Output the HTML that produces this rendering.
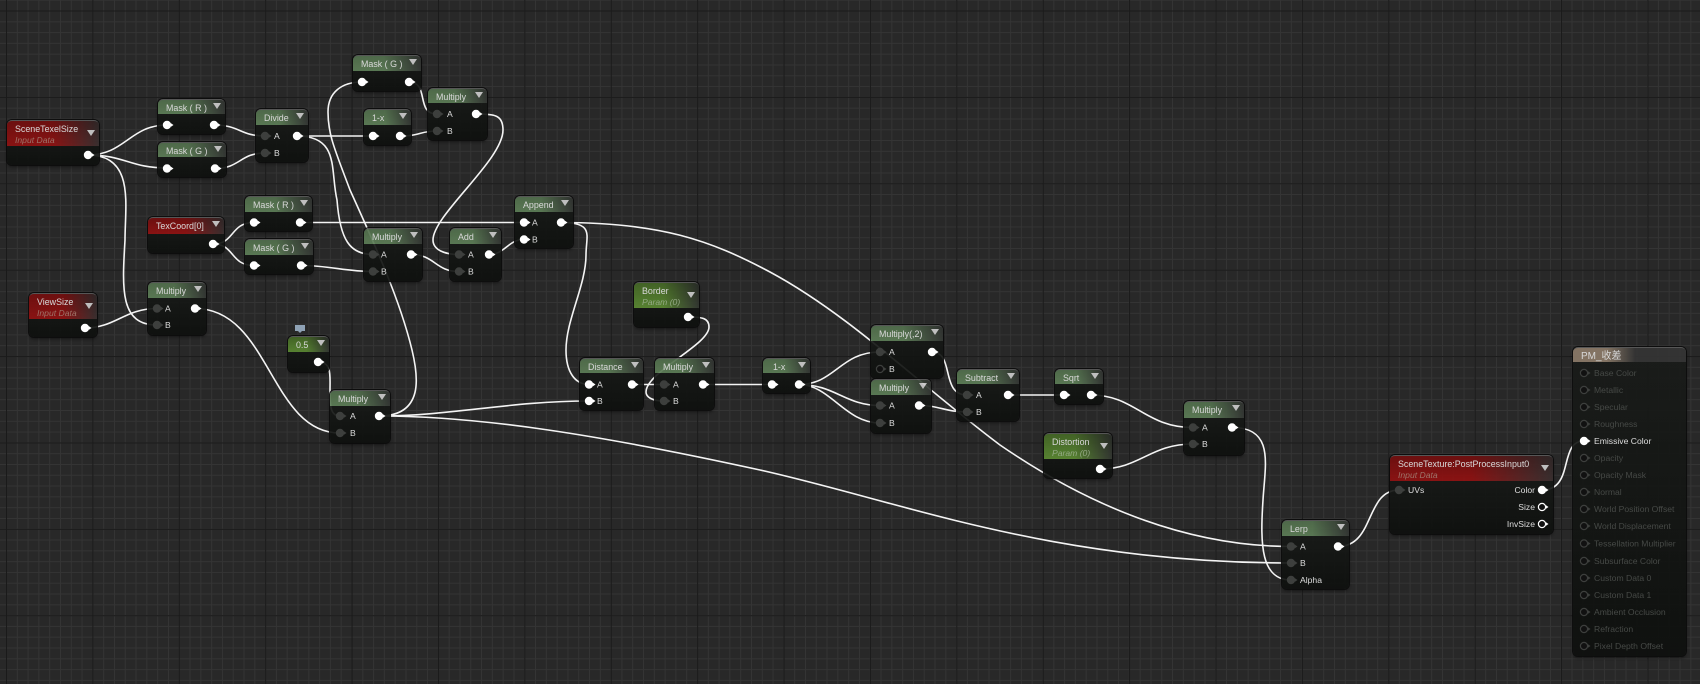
<!DOCTYPE html>
<html><head><meta charset="utf-8"><style>
html,body{margin:0;padding:0;width:1700px;height:684px;overflow:hidden}
#g{position:absolute;left:0;top:0;width:1700px;height:684px;background-color:#282828;
background-image:linear-gradient(90deg,#1a1a1a 1px,transparent 1px),linear-gradient(#1a1a1a 1px,transparent 1px),linear-gradient(90deg,#343434 1px,transparent 1px),linear-gradient(#343434 1px,transparent 1px);
background-size:86.4px 86.4px,86.4px 86.4px,10.8px 10.8px,10.8px 10.8px;background-position:6px 0,0 10.5px,6px 0,0 10.5px}
svg{position:absolute;left:0;top:0}
.n{position:absolute;box-sizing:border-box;border-radius:5px;background:linear-gradient(#191b19,#0e100e);opacity:.92;box-shadow:0 0 0 1px #0b0b0b,0 2px 3px rgba(0,0,0,.5);font:8.9px "Liberation Sans","Noto Sans CJK SC",sans-serif;color:#e6e6e6}
.h{position:relative;border-radius:5px 5px 0 0;border-top:1px solid #5a5a5a;box-sizing:border-box;white-space:nowrap}
.h b{position:absolute;left:8px;top:3px;font-weight:normal}
.h em{position:absolute;left:8px;top:14px;font-size:8.6px;font-style:italic}
.h i{position:absolute;right:4px;top:3px;width:0;height:0;border-left:4px solid transparent;border-right:4px solid transparent;border-top:6px solid #ccc}
.two b{top:3px}.two i{top:9px}
.g .h{background:linear-gradient(rgba(0,0,0,.12),transparent),linear-gradient(90deg,#5d7e57,#5d7e57 45%,#353835)}
.p .h{background:linear-gradient(rgba(0,0,0,.25),transparent),linear-gradient(90deg,#5b8a32,#5b8a32 45%,#343832)}
.r .h{background:linear-gradient(rgba(0,0,0,.22),transparent),linear-gradient(90deg,#921212,#921212 50%,#3a3030)}
.r em{color:#a8796e}.p em{color:#9db58c}
.m .h{background:linear-gradient(90deg,#8b7a68,#8b7a68 30%,#353535 55%,#353535)}
.m b{font-size:10px;top:-1px}
text{font:8.6px "Liberation Sans",sans-serif;fill:#ddd}
.dim{fill:#464946}
</style></head><body>
<div id="g"></div>
<svg width="1700" height="684" fill="none" stroke="#f4f4f4" stroke-width="1.6">
<path d="M88,155C125,155 130,125 167,125"/>
<path d="M88,155C125,155 130,168 167,168"/>
<path d="M88,155C135,155 125,205 125,240C122,290 120,325 157,325"/>
<path d="M85,328C115,328 125,308.5 157,308.5"/>
<path d="M214,125C240,125 240,136 265,136"/>
<path d="M215,168.5C240,168.5 240,153 265,153"/>
<path d="M297,136H373"/>
<path d="M297,136C340,136 330,170 337,200C340,240 350,254.5 373,254.5"/>
<path d="M379,416C425,416 418,375 412,350C400,300 375,245 350,190C335,150 328,135 328,112C328,92 342,82 362,82"/>
<path d="M409,82C430,82 415,114 437,114"/>
<path d="M400,136C420,136 420,131 437,131"/>
<path d="M476,114C495,114 503,115 503,130C503,160 433,215 433,240C433,250 445,254.5 459,254.5"/>
<path d="M300,222.5H524"/>
<path d="M301,265.5C330,265.5 345,271.5 373,271.5"/>
<path d="M213,244C235,244 230,222.5 254,222.5"/>
<path d="M213,244C235,244 230,265.5 254,265.5"/>
<path d="M411,254.5C435,254.5 435,271.5 459,271.5"/>
<path d="M489,254.5C505,254.5 508,239.5 524,239.5"/>
<path d="M561,222.5C595,222.5 586,235 586,255C586,285 566,320 566,350C566,372 575,384.5 589,384.5"/>
<path d="M561,222.5C660,222.5 710,240 770,272C850,315 920,385 1000,445C1080,500 1180,546.5 1291,546.5"/>
<path d="M195,308.5C270,308.5 270,433 340,433"/>
<path d="M318,362C332,362 330,375 330,390C330,405 330,416 340,416"/>
<path d="M379,416C450,416 510,401 589,401"/>
<path d="M379,416C480,416 600,435 760,470C900,501 1050,563 1291,563"/>
<path d="M688,317C702,317 709,318 709,327C709,345 646,372 646,392C646,397 652,401 664,401"/>
<path d="M632,384.5H664"/>
<path d="M703,384.5H772"/>
<path d="M799,384.5C835,384.5 840,352 880,352"/>
<path d="M799,384.5C835,384.5 845,405.5 880,405.5"/>
<path d="M799,384.5C830,384.5 845,423 880,423"/>
<path d="M932,352C955,352 940,395 967,395"/>
<path d="M919,405.5C940,405.5 945,412 967,412"/>
<path d="M1008,395H1064"/>
<path d="M1091,395C1135,395 1145,427.5 1193,427.5"/>
<path d="M1100,469C1140,469 1150,444 1193,444"/>
<path d="M1232,427.5C1275,427.5 1265,465 1263,500C1260,545 1261,580 1291,580"/>
<path d="M1338,546.5C1375,546.5 1365,490 1399,490"/>
<path d="M1542,490C1575,490 1558,441 1584,441"/>
</svg>

<div class="n r" style="left:7px;top:120px;width:92px;height:45px"><div class="h two" style="height:26px"><b>SceneTexelSize</b><em>Input Data</em><i></i></div></div>
<div class="n g" style="left:158px;top:99px;width:67px;height:35px"><div class="h" style="height:15px"><b>Mask ( R )</b><i></i></div></div>
<div class="n g" style="left:158px;top:142px;width:68px;height:35px"><div class="h" style="height:15px"><b>Mask ( G )</b><i></i></div></div>
<div class="n g" style="left:256px;top:109px;width:52px;height:53px"><div class="h" style="height:16px"><b>Divide</b><i></i></div></div>
<div class="n g" style="left:353px;top:55px;width:68px;height:36px"><div class="h" style="height:16px"><b>Mask ( G )</b><i></i></div></div>
<div class="n g" style="left:364px;top:109px;width:47px;height:36px"><div class="h" style="height:16px"><b>1-x</b><i></i></div></div>
<div class="n g" style="left:428px;top:88px;width:59px;height:52px"><div class="h" style="height:15px"><b>Multiply</b><i></i></div></div>
<div class="n r" style="left:148px;top:217px;width:76px;height:36px"><div class="h" style="height:17px"><b>TexCoord[0]</b><i></i></div></div>
<div class="n g" style="left:245px;top:196px;width:67px;height:35px"><div class="h" style="height:16px"><b>Mask ( R )</b><i></i></div></div>
<div class="n g" style="left:245px;top:239px;width:68px;height:35px"><div class="h" style="height:16px"><b>Mask ( G )</b><i></i></div></div>
<div class="n g" style="left:364px;top:228px;width:58px;height:53px"><div class="h" style="height:16px"><b>Multiply</b><i></i></div></div>
<div class="n g" style="left:450px;top:228px;width:51px;height:53px"><div class="h" style="height:16px"><b>Add</b><i></i></div></div>
<div class="n g" style="left:515px;top:196px;width:58px;height:52px"><div class="h" style="height:16px"><b>Append</b><i></i></div></div>
<div class="n r" style="left:29px;top:293px;width:68px;height:44px"><div class="h two" style="height:26px"><b>ViewSize</b><em>Input Data</em><i></i></div></div>
<div class="n g" style="left:148px;top:282px;width:58px;height:53px"><div class="h" style="height:16px"><b>Multiply</b><i></i></div></div>
<div class="n p" style="left:288px;top:336px;width:41px;height:36px"><div class="h" style="height:16px"><b>0.5</b><i></i></div></div>
<div class="n g" style="left:330px;top:390px;width:60px;height:53px"><div class="h" style="height:16px"><b>Multiply</b><i></i></div></div>
<div class="n p" style="left:634px;top:282px;width:65px;height:45px"><div class="h two" style="height:26px"><b>Border</b><em>Param (0)</em><i></i></div></div>
<div class="n g" style="left:580px;top:358px;width:63px;height:52px"><div class="h" style="height:15px"><b>Distance</b><i></i></div></div>
<div class="n g" style="left:655px;top:358px;width:59px;height:52px"><div class="h" style="height:15px"><b>Multiply</b><i></i></div></div>
<div class="n g" style="left:763px;top:358px;width:47px;height:35px"><div class="h" style="height:15px"><b style="left:10px">1-x</b><i></i></div></div>
<div class="n g" style="left:871px;top:325px;width:72px;height:53px"><div class="h" style="height:16px"><b>Multiply(,2)</b><i></i></div></div>
<div class="n g" style="left:871px;top:379px;width:60px;height:54px"><div class="h" style="height:16px"><b>Multiply</b><i></i></div></div>
<div class="n g" style="left:957px;top:369px;width:62px;height:52px"><div class="h" style="height:15px"><b>Subtract</b><i></i></div></div>
<div class="n g" style="left:1055px;top:369px;width:48px;height:35px"><div class="h" style="height:15px"><b>Sqrt</b><i></i></div></div>
<div class="n g" style="left:1184px;top:401px;width:60px;height:54px"><div class="h" style="height:17px"><b>Multiply</b><i></i></div></div>
<div class="n p" style="left:1044px;top:433px;width:68px;height:45px"><div class="h two" style="height:26px"><b>Distortion</b><em>Param (0)</em><i></i></div></div>
<div class="n g" style="left:1282px;top:520px;width:67px;height:69px"><div class="h" style="height:16px"><b>Lerp</b><i></i></div></div>
<div class="n r" style="left:1390px;top:455px;width:163px;height:79px"><div class="h two" style="height:26px"><b>SceneTexture:PostProcessInput0</b><em>Input Data</em><i></i></div></div>
<div class="n m" style="left:1573px;top:347px;width:113px;height:309px"><div class="h" style="height:15px"><b>PM_收差</b></div></div>

<svg width="1700" height="684">
<defs>
<g id="w"><circle r="4.2" fill="#fff"/><path d="M4,-1.8L6.5,0L4,1.8z" fill="#fff"/></g>
<g id="d"><circle r="4.2" fill="#3d3f3d"/><path d="M4,-1.8L6.5,0L4,1.8z" fill="#3d3f3d"/></g>
<g id="o"><circle r="3.6" fill="#111" stroke="#fff" stroke-width="1.2"/><path d="M4,-1.8L6.5,0L4,1.8z" fill="#fff"/></g>
<g id="k"><circle r="3.6" fill="#111" stroke="#3d3f3d" stroke-width="1.2"/><path d="M4,-1.8L6.5,0L4,1.8z" fill="#3d3f3d"/></g>
</defs>
<path d="M295,325h10v6h-3l-2,2l-2,-2h-3z" fill="#8fa2b5"/>
<use href="#w" x="88" y="155"/>
<use href="#w" x="167" y="125"/><use href="#w" x="214" y="125"/>
<use href="#w" x="167" y="168.5"/><use href="#w" x="215" y="168.5"/>
<use href="#d" x="265" y="136"/><use href="#d" x="265" y="153"/><use href="#w" x="297" y="136"/>
<use href="#w" x="362" y="82"/><use href="#w" x="409" y="82"/>
<use href="#w" x="373" y="136"/><use href="#w" x="400" y="136"/>
<use href="#d" x="437" y="114"/><use href="#d" x="437" y="131"/><use href="#w" x="476" y="114"/>
<use href="#w" x="213" y="244"/>
<use href="#w" x="254" y="222.5"/><use href="#w" x="300" y="222.5"/>
<use href="#w" x="254" y="265.5"/><use href="#w" x="301" y="265.5"/>
<use href="#d" x="373" y="254.5"/><use href="#d" x="373" y="271.5"/><use href="#w" x="411" y="254.5"/>
<use href="#d" x="459" y="254.5"/><use href="#d" x="459" y="271.5"/><use href="#w" x="489" y="254.5"/>
<use href="#w" x="524" y="222.5"/><use href="#w" x="524" y="239.5"/><use href="#w" x="561" y="222.5"/>
<use href="#w" x="85" y="328"/>
<use href="#d" x="157" y="308.5"/><use href="#d" x="157" y="325"/><use href="#w" x="195" y="308.5"/>
<use href="#w" x="318" y="362"/>
<use href="#d" x="340" y="416"/><use href="#d" x="340" y="433"/><use href="#w" x="379" y="416"/>
<use href="#w" x="688" y="317"/>
<use href="#w" x="589" y="384.5"/><use href="#w" x="589" y="401"/><use href="#w" x="632" y="384.5"/>
<use href="#d" x="664" y="384.5"/><use href="#d" x="664" y="401"/><use href="#w" x="703" y="384.5"/>
<use href="#w" x="772" y="384.5"/><use href="#w" x="799" y="384.5"/>
<use href="#d" x="880" y="352"/><use href="#k" x="880" y="369"/><use href="#w" x="932" y="352"/>
<use href="#d" x="880" y="405.5"/><use href="#d" x="880" y="423"/><use href="#w" x="919" y="405.5"/>
<use href="#d" x="967" y="395"/><use href="#d" x="967" y="412"/><use href="#w" x="1008" y="395"/>
<use href="#w" x="1064" y="395"/><use href="#w" x="1091" y="395"/>
<use href="#d" x="1193" y="427.5"/><use href="#d" x="1193" y="444"/><use href="#w" x="1232" y="427.5"/>
<use href="#w" x="1100" y="469"/>
<use href="#d" x="1291" y="546.5"/><use href="#d" x="1291" y="563"/><use href="#d" x="1291" y="580"/><use href="#w" x="1338" y="546.5"/>
<use href="#d" x="1399" y="490"/><use href="#w" x="1542" y="490"/><use href="#o" x="1542" y="507"/><use href="#o" x="1542" y="524"/>
<use href="#k" x="1584" y="373"/><use href="#k" x="1584" y="390"/><use href="#k" x="1584" y="407"/><use href="#k" x="1584" y="424"/><use href="#w" x="1584" y="441"/><use href="#k" x="1584" y="458"/><use href="#k" x="1584" y="475"/><use href="#k" x="1584" y="492"/><use href="#k" x="1584" y="509"/><use href="#k" x="1584" y="526"/><use href="#k" x="1584" y="543.5"/><use href="#k" x="1584" y="561"/><use href="#k" x="1584" y="578"/><use href="#k" x="1584" y="595"/><use href="#k" x="1584" y="612"/><use href="#k" x="1584" y="629"/><use href="#k" x="1584" y="646"/>
<text x="274" y="139">A</text><text x="274" y="156">B</text>
<text x="447" y="117">A</text><text x="447" y="134">B</text>
<text x="381" y="257.5">A</text><text x="381" y="274.5">B</text>
<text x="468" y="257.5">A</text><text x="468" y="274.5">B</text>
<text x="532" y="225.5">A</text><text x="532" y="242.5">B</text>
<text x="165" y="311.5">A</text><text x="165" y="328">B</text>
<text x="350" y="419">A</text><text x="350" y="436">B</text>
<text x="597" y="387.5">A</text><text x="597" y="404">B</text>
<text x="673" y="387.5">A</text><text x="673" y="404">B</text>
<text x="889" y="355">A</text><text x="889" y="372">B</text>
<text x="889" y="408.5">A</text><text x="889" y="426">B</text>
<text x="976" y="398">A</text><text x="976" y="415">B</text>
<text x="1202" y="430.5">A</text><text x="1202" y="447">B</text>
<text x="1300" y="549.5">A</text><text x="1300" y="566">B</text><text x="1300" y="583">Alpha</text>
<text x="1408" y="493">UVs</text>
<text x="1535" y="493" text-anchor="end">Color</text><text x="1535" y="510" text-anchor="end">Size</text><text x="1535" y="527" text-anchor="end">InvSize</text>
<text class="dim" x="1594" y="376">Base Color</text><text class="dim" x="1594" y="393">Metallic</text><text class="dim" x="1594" y="410">Specular</text><text class="dim" x="1594" y="427">Roughness</text><text x="1594" y="444">Emissive Color</text><text class="dim" x="1594" y="461">Opacity</text><text class="dim" x="1594" y="478">Opacity Mask</text><text class="dim" x="1594" y="495">Normal</text><text class="dim" x="1594" y="512">World Position Offset</text><text class="dim" x="1594" y="529">World Displacement</text><text class="dim" x="1594" y="546.5">Tessellation Multiplier</text><text class="dim" x="1594" y="564">Subsurface Color</text><text class="dim" x="1594" y="581">Custom Data 0</text><text class="dim" x="1594" y="598">Custom Data 1</text><text class="dim" x="1594" y="615">Ambient Occlusion</text><text class="dim" x="1594" y="632">Refraction</text><text class="dim" x="1594" y="649">Pixel Depth Offset</text>
</svg>
</body></html>
